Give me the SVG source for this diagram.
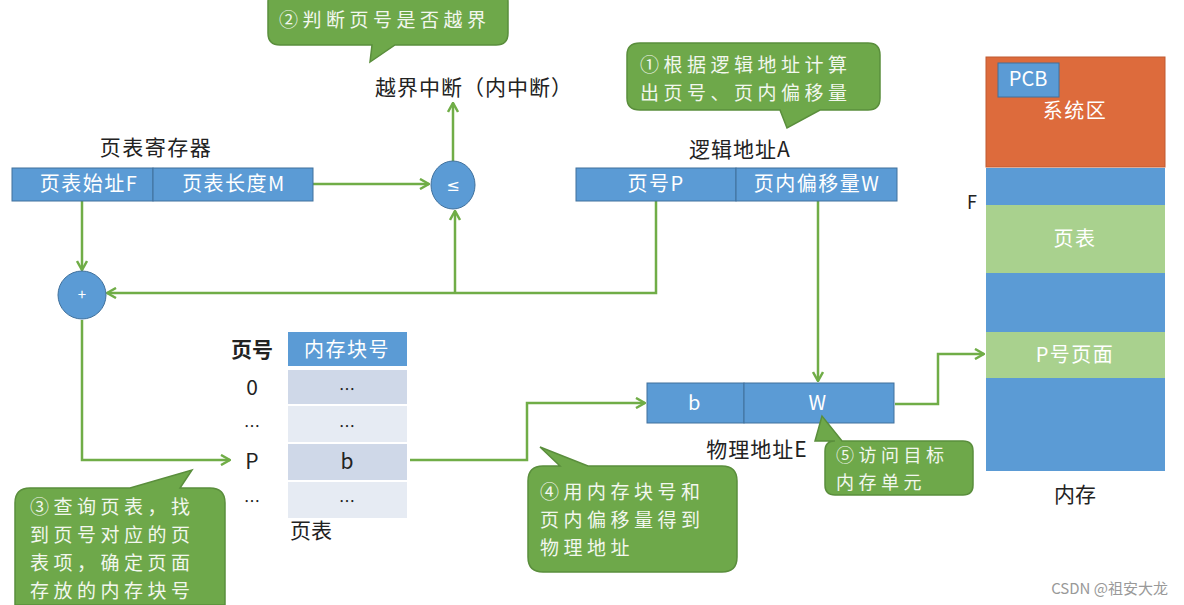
<svg xmlns="http://www.w3.org/2000/svg" width="1184" height="605" viewBox="0 0 1184 605">
<defs>
<style>
text{font-family:"Noto Sans CJK SC","Liberation Sans",sans-serif;}
.lbl{font-size:21px;fill:#222;}
.dots{font-size:16px;fill:#222;}
.bx{fill:#5b9bd5;stroke:#41719c;stroke-width:1;}
.wt{font-size:20px;fill:#fff;letter-spacing:1.5px;}
.co{fill:#6ea84a;stroke:#5a8e3c;stroke-width:1.5;}
.ct{font-size:19px;fill:#f2f7ee;letter-spacing:4.5px;}
.ct5{font-size:18px;fill:#f2f7ee;letter-spacing:4.5px;}
.ln{fill:none;stroke:#70ad47;stroke-width:2.5;}
.row1{fill:#cfd8e8;}
.row2{fill:#e6ebf3;}
</style>
<marker id="ah" viewBox="0 0 12 12" refX="11" refY="6" markerWidth="12" markerHeight="12" markerUnits="userSpaceOnUse" orient="auto">
<polyline points="2,1 11,6 2,11" fill="none" stroke="#70ad47" stroke-width="2.5"/>
</marker>
</defs>
<rect width="1184" height="605" fill="#fff"/>

<g id="connectors">
<path class="ln" d="M313,184 H429" marker-end="url(#ah)"/>
<path class="ln" d="M453,161 V103" marker-end="url(#ah)"/>
<path class="ln" d="M656,200 V293 H107" marker-end="url(#ah)"/>
<path class="ln" d="M455,293 V211" marker-end="url(#ah)"/>
<path class="ln" d="M82,200 V270" marker-end="url(#ah)"/>
<path class="ln" d="M82,320 V460 H230" marker-end="url(#ah)"/>
<path class="ln" d="M410,460 H527 V403 H645" marker-end="url(#ah)"/>
<path class="ln" d="M818,200 V381" marker-end="url(#ah)"/>
<path class="ln" d="M895,404 H938 V354 H984" marker-end="url(#ah)"/>
</g>

<g id="callout2">
<path class="co" d="M280,-10 H496 Q508,-10 508,2 V33 Q508,45 496,45 H395 L370,62 L372,45 H280 Q268,45 268,33 V2 Q268,-10 280,-10 Z"/>
<text class="ct" x="279" y="27">②判断页号是否越界</text>
</g>

<g id="interrupt">
<text class="lbl" x="375" y="95" style="letter-spacing:1px">越界中断（内中断）</text>
</g>

<g id="callout1">
<path class="co" d="M640,43 H868 Q880,43 880,55 V98 Q880,110 868,110 H820 L787,128 L780,110 H640 Q627,110 627,98 V55 Q627,43 640,43 Z"/>
<text class="ct" x="640" y="72">①根据逻辑地址计算</text>
<text class="ct" x="640" y="100">出页号、页内偏移量</text>
</g>

<g id="ptr">
<text class="lbl" x="156" y="155" text-anchor="middle" style="letter-spacing:1.5px">页表寄存器</text>
<rect class="bx" x="12" y="168" width="141" height="33"/>
<rect class="bx" x="153" y="168" width="160" height="33"/>
<text class="wt" x="89" y="191" text-anchor="middle">页表始址F</text>
<text class="wt" x="234" y="191" text-anchor="middle">页表长度M</text>
</g>

<g id="cmp">
<ellipse class="bx" cx="453" cy="185" rx="22" ry="24"/>
<text x="453" y="191" text-anchor="middle" style="font-family:'DejaVu Sans',sans-serif;font-size:16px;fill:#fff">≤</text>
</g>

<g id="logical">
<text class="lbl" x="740" y="157" text-anchor="middle" style="letter-spacing:1px">逻辑地址A</text>
<rect class="bx" x="576" y="168" width="160" height="33"/>
<rect class="bx" x="736" y="168" width="161" height="33"/>
<text class="wt" x="656" y="191" text-anchor="middle">页号P</text>
<text class="wt" x="817" y="191" text-anchor="middle">页内偏移量W</text>
</g>

<g id="adder">
<circle class="bx" cx="82" cy="295" r="24"/>
<text x="82" y="300" text-anchor="middle" style="font-size:15px;fill:#fff">+</text>
</g>

<g id="pagetable">
<text class="lbl" x="252" y="357" text-anchor="middle" style="font-weight:bold">页号</text>
<rect x="288" y="332" width="119" height="34" fill="#5b9bd5"/>
<text class="wt" x="347" y="357" text-anchor="middle">内存块号</text>
<rect class="row1" x="288" y="370" width="119" height="34"/>
<rect class="row2" x="288" y="406" width="119" height="36"/>
<rect class="row1" x="288" y="444" width="119" height="36"/>
<rect class="row2" x="288" y="482" width="119" height="36"/>
<text class="lbl" x="252" y="395" text-anchor="middle">0</text>
<text class="dots" x="252" y="432" text-anchor="middle">…</text>
<text class="lbl" x="252" y="469" text-anchor="middle">P</text>
<text class="dots" x="252" y="507" text-anchor="middle">…</text>
<text class="dots" x="347" y="395" text-anchor="middle">…</text>
<text class="dots" x="347" y="432" text-anchor="middle">…</text>
<text class="lbl" x="347" y="469" text-anchor="middle">b</text>
<text class="dots" x="347" y="507" text-anchor="middle">…</text>
<text class="lbl" x="290" y="538">页表</text>
</g>

<g id="callout3">
<path class="co" d="M30,488 H130 L192,470 L180,488 H210 Q225,488 225,503 V605 H15 V503 Q15,488 30,488 Z"/>
<text class="ct" x="30" y="514">③查询页表，找</text>
<text class="ct" x="30" y="542">到页号对应的页</text>
<text class="ct" x="30" y="570">表项，确定页面</text>
<text class="ct" x="30" y="598">存放的内存块号</text>
</g>

<g id="physical">
<rect class="bx" x="647" y="383" width="97" height="40"/>
<rect class="bx" x="744" y="383" width="150" height="40"/>
<text class="wt" x="695" y="410" text-anchor="middle">b</text>
<text class="wt" x="818" y="410" text-anchor="middle">W</text>
<text class="lbl" x="757" y="457" text-anchor="middle" style="letter-spacing:1px">物理地址E</text>
</g>

<g id="callout4">
<path class="co" d="M543,466 H560 L540,447 L588,466 H722 Q737,466 737,481 V557 Q737,572 722,572 H543 Q528,572 528,557 V481 Q528,466 543,466 Z"/>
<text class="ct" x="540" y="499">④用内存块号和</text>
<text class="ct" x="540" y="527">页内偏移量得到</text>
<text class="ct" x="540" y="555">物理地址</text>
</g>

<g id="callout5">
<path class="co" d="M835,441 H815 L822,416 L842,441 H963 Q973,441 973,451 V485 Q973,495 963,495 H835 Q825,495 825,485 V451 Q825,441 835,441 Z"/>
<text class="ct5" x="836" y="462">⑤访问目标</text>
<text class="ct5" x="836" y="489">内存单元</text>
</g>

<g id="memory">
<rect x="986" y="57" width="179" height="110" fill="#dd6b3c" stroke="#c05a30" stroke-width="1"/>
<rect class="bx" x="998" y="63" width="61" height="34"/>
<text class="wt" x="1028" y="86" text-anchor="middle" style="letter-spacing:0">PCB</text>
<text class="wt" x="1075" y="118" text-anchor="middle">系统区</text>
<rect x="986" y="168" width="179" height="37" fill="#5b9bd5"/>
<rect x="986" y="205" width="179" height="68" fill="#a9d18e"/>
<text class="wt" x="1075" y="246" text-anchor="middle">页表</text>
<rect x="986" y="273" width="179" height="59" fill="#5b9bd5"/>
<rect x="986" y="332" width="179" height="46" fill="#a9d18e"/>
<text class="wt" x="1075" y="362" text-anchor="middle">P号页面</text>
<rect x="986" y="378" width="179" height="93" fill="#5b9bd5"/>
<text class="lbl" x="972" y="209" text-anchor="middle" style="font-size:18px">F</text>
<text class="lbl" x="1075" y="502" text-anchor="middle">内存</text>
</g>

<g id="watermark">
<text x="1168" y="594" text-anchor="end" style="font-size:15px;fill:#999">CSDN @祖安大龙</text>
</g>
</svg>
